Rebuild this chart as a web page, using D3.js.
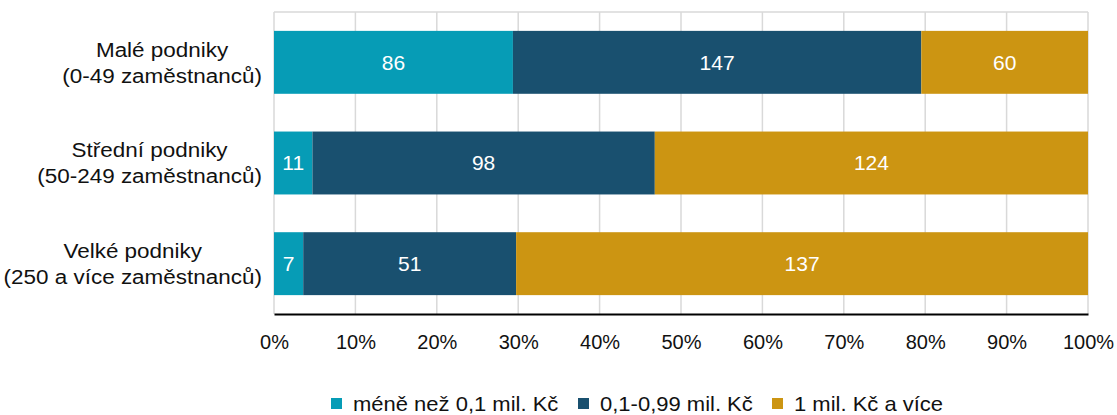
<!DOCTYPE html>
<html>
<head>
<meta charset="utf-8">
<script src="https://cdn.jsdelivr.net/npm/d3@7"></script>
<style>
  html, body { margin: 0; padding: 0; background: #fff; }
  svg { display: block; font-family: "Liberation Sans", Arial, sans-serif; }
</style>
</head>
<body>
<svg id="chart" width="1117" height="415"></svg>
<script>
const categories = [
  ["Malé podniky", "(0-49 zaměstnanců)"],
  ["Střední podniky", "(50-249 zaměstnanců)"],
  ["Velké podniky", "(250 a více zaměstnanců)"]
];
const seriesNames = ["méně než 0,1 mil. Kč", "0,1-0,99 mil. Kč", "1 mil. Kč a více"];
const seriesColors = ["#069CB6", "#19506F", "#CC9512"];
const valuesSmall = [86, 11, 7];
const valuesMid = [147, 98, 51];
const valuesLarge = [60, 124, 137];
const tickValues = [0, 0.1, 0.2, 0.3, 0.4, 0.5, 0.6, 0.7, 0.8, 0.9, 1.0];

const seriesValues = [valuesSmall, valuesMid, valuesLarge];
const rows = categories.map((c, i) => {
  const r = { key: i };
  seriesNames.forEach((s, j) => { r[s] = seriesValues[j][i]; });
  return r;
});

const svg = d3.select("#chart");
const margin = { left: 274, right: 30, top: 12, bottom: 101 };
const W = 1117, H = 415;
const x = d3.scaleLinear().domain([0, 1]).range([margin.left, W - margin.right + 1]);
const y = d3.scaleBand().domain(d3.range(categories.length))
  .range([margin.top, H - margin.bottom]).paddingInner(0.375).paddingOuter(0.1875);

const stack = d3.stack().keys(seriesNames).offset(d3.stackOffsetExpand);
const stacked = stack(rows);

// grid
svg.append("g").selectAll("line").data(tickValues).join("line")
  .attr("x1", d => x(d)).attr("x2", d => x(d))
  .attr("y1", margin.top).attr("y2", H - margin.bottom)
  .attr("stroke", "#d9d9d9").attr("stroke-width", 1.5);
svg.append("line")
  .attr("x1", x(0)).attr("x2", x(1))
  .attr("y1", margin.top).attr("y2", margin.top)
  .attr("stroke", "#d9d9d9").attr("stroke-width", 1.5);

// bars
const groups = svg.append("g").selectAll("g").data(stacked).join("g")
  .attr("fill", (d, i) => seriesColors[i]);
groups.selectAll("rect").data(d => d).join("rect")
  .attr("x", d => x(d[0]))
  .attr("width", d => x(d[1]) - x(d[0]))
  .attr("y", d => y(d.data.key))
  .attr("height", y.bandwidth());

// value labels
groups.selectAll("text").data(d => d.map(v => ({ v, key: d.key }))).join("text")
  .attr("x", d => (x(d.v[0]) + x(d.v[1])) / 2)
  .attr("y", d => y(d.v.data.key) + y.bandwidth() / 2)
  .attr("dy", "0.35em")
  .attr("text-anchor", "middle")
  .attr("fill", "#fff")
  .attr("font-size", 21)
  .text(d => d.v.data[d.key]);

// x axis
const xAxis = d3.axisBottom(x).tickValues(tickValues).tickFormat(d3.format(".0%")).tickSize(0).tickPadding(21);
const gx = svg.append("g").attr("transform", `translate(0,${H - margin.bottom})`).call(xAxis);
gx.select(".domain").attr("stroke", "#000").attr("stroke-width", 2);
gx.selectAll("text").attr("font-size", 20).attr("fill", "#111").attr("font-family", "Liberation Sans, Arial, sans-serif");

// y axis labels (block centred, widest line right edge at ~262)
const sxLab = 1.07;
categories.forEach((lines, i) => {
  const g = svg.append("g");
  const t = g.append("text").attr("text-anchor", "middle").attr("font-size", 21).attr("fill", "#111");
  t.selectAll("tspan").data(lines).join("tspan")
    .attr("x", 0)
    .attr("y", (d, j) => j === 0 ? -13 : 13)
    .attr("dy", "0.35em")
    .text(d => d);
  let maxW = 0;
  t.selectAll("tspan").each(function () { maxW = Math.max(maxW, this.getComputedTextLength()); });
  const cx = 262 - maxW * sxLab / 2;
  g.attr("transform", `translate(${cx},${y(i) + y.bandwidth() / 2}) scale(${sxLab},1)`);
});

// legend
const legendX = [331, 578, 772];
const sxLeg = 1.1;
const leg = svg.append("g").selectAll("g").data(seriesNames).join("g")
  .attr("transform", (d, i) => `translate(${legendX[i]},404)`);
leg.append("rect").attr("x", 0).attr("y", -6).attr("width", 11).attr("height", 11)
  .attr("fill", (d, i) => seriesColors[i]);
leg.append("text").attr("transform", `translate(22,0) scale(${sxLeg},1)`).attr("dy", "0.35em")
  .attr("font-size", 20).attr("fill", "#111")
  .text(d => d);
</script>
</body>
</html>
